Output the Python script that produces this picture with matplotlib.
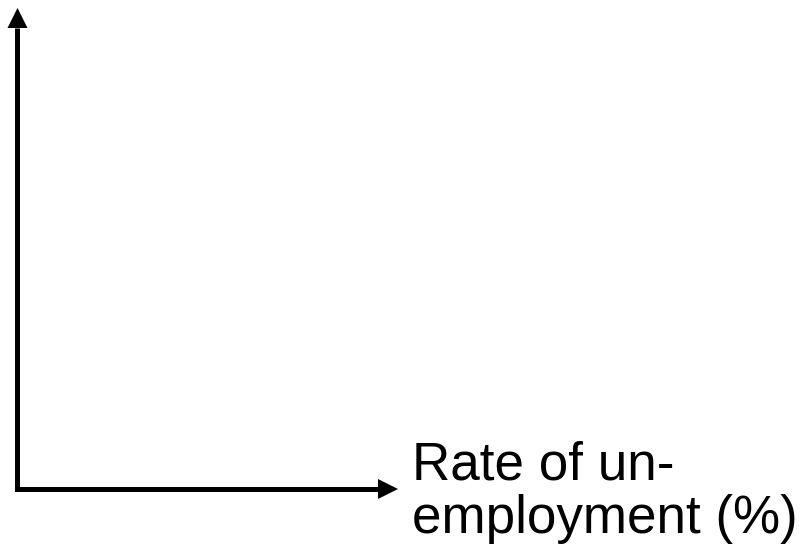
import matplotlib.pyplot as plt
from matplotlib.patches import Polygon

# figure in pixel coordinates (803 x 552, y pointing down)
W, H = 803, 552

# axis geometry
origin = (17.5, 489)
y_top = 8      # tip of vertical arrow
x_right = 398  # tip of horizontal arrow
head_len = 20
head_half = 10

label_lines = ["Rate of un-", "employment (%)"]
label_x = 412
label_baselines = [480, 533]

fig = plt.figure(figsize=(W / 100, H / 100), dpi=100)
ax = fig.add_axes([0, 0, 1, 1])
ax.set_xlim(0, W)
ax.set_ylim(H, 0)
ax.axis("off")

ox, oy = origin
# --- axes lines ---
ax.plot([ox, ox, x_right - head_len], [y_top + head_len, oy, oy],
        color="black", lw=3.6, solid_joinstyle="miter", solid_capstyle="butt")

# --- arrow heads ---
ax.add_patch(Polygon([(ox - head_half, y_top + head_len), (ox + head_half, y_top + head_len), (ox, y_top)],
                     closed=True, facecolor="black", edgecolor="none"))
ax.add_patch(Polygon([(x_right - head_len, oy - head_half), (x_right - head_len, oy + head_half), (x_right, oy)],
                     closed=True, facecolor="black", edgecolor="none"))

# --- label ---
for txt, yb in zip(label_lines, label_baselines):
    ax.text(label_x, yb, txt, family="Liberation Sans", fontsize=38.2,
            ha="left", va="baseline", color="black")

fig.savefig("out.png", dpi=100)
